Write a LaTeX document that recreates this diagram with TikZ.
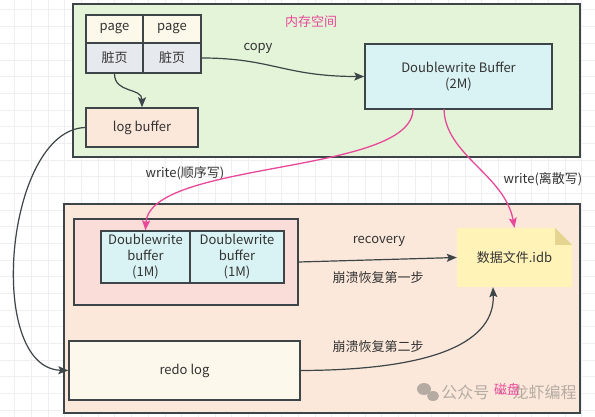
\documentclass[tikz,border=0pt]{standalone}
\usepackage{fontspec}
\setmainfont{Noto Sans CJK SC}
\usetikzlibrary{arrows.meta}
\definecolor{bdr}{HTML}{3D4548}
\definecolor{txt}{HTML}{333333}
\definecolor{gridc}{HTML}{EFEFEF}
\definecolor{memg}{HTML}{E3F4D8}
\definecolor{pagec}{HTML}{FDF9EA}
\definecolor{dirtyc}{HTML}{E6EAEE}
\definecolor{logc}{HTML}{FCE8DA}
\definecolor{dwbc}{HTML}{D9F3F4}
\definecolor{diskc}{HTML}{FBE8DA}
\definecolor{pinkbox}{HTML}{FADCD9}
\definecolor{notec}{HTML}{FFF3B8}
\definecolor{foldc}{HTML}{E5D48F}
\definecolor{redoc}{HTML}{FCF8EB}
\definecolor{pinkc}{HTML}{E8489A}
\definecolor{wmc}{HTML}{B5ABA3}
\tikzset{
  box/.style={draw=bdr, line width=1.4pt, inner sep=0pt, text=txt, align=center,
    font=\fontsize{13}{16}\selectfont},
  outerbox/.style={draw=bdr, line width=2pt, inner sep=0pt},
  lbl/.style={text=txt, inner sep=1pt, font=\fontsize{13}{16}\selectfont},
  arr/.style={draw=bdr, line width=1.2pt, -{Stealth[length=10pt,width=8pt,inset=2pt]}},
  parr/.style={draw=pinkc, line width=1.3pt, -{Stealth[length=10pt,width=8pt,inset=2pt]}},
}
\begin{document}
\begin{tikzpicture}[x=1pt,y=-1pt]
\useasboundingbox (0,0) rectangle (595,417);
\fill[white] (0,0) rectangle (595,417);
% grid
\foreach \i in {0,...,36} \draw[gridc, line width=1pt] ({-1.7+16.67*\i},0) -- ++(0,417);
\foreach \i in {0,...,26} \draw[gridc, line width=1pt] (0,{-6.67+16.67*\i}) -- ++(595,0);

% memory area
\node[outerbox, fill=memg, minimum width=507, minimum height=153] (mem) at (326.5,80.5) {};
\node[text=pinkc, inner sep=0, font=\fontsize{13}{16}\selectfont] (memlbl) at (311,22) {内存空间};
\node[box, fill=pagec, minimum width=57, minimum height=28] (p1) at (114.5,29) {page};
\node[box, fill=pagec, minimum width=58, minimum height=28] (p2) at (172,29) {page};
\node[box, fill=dirtyc, minimum width=57, minimum height=30] (d1) at (114.5,58) {脏页};
\node[box, fill=dirtyc, minimum width=58, minimum height=30] (d2) at (172,58) {脏页};
\node[box, fill=logc, minimum width=112, minimum height=39] (logbuf) at (142,127.5) {log buffer};
\node[box, fill=dwbc, minimum width=187, minimum height=65] (dwb) at (458.5,76.5) {Doublewrite Buffer\\(2M)};
\node[lbl] (copylbl) at (258,48) {copy};

% disk area
\node[outerbox, fill=diskc, minimum width=516, minimum height=209] (disk) at (322,308.5) {};
\node[box, fill=pinkbox, minimum width=224, minimum height=86] (pb) at (186,262) {};
\node[box, fill=dwbc, minimum width=89, minimum height=52] (c1) at (145.5,257) {Doublewrite\\buffer\\(1M)};
\node[box, fill=dwbc, minimum width=94, minimum height=52] (c2) at (237,257) {Doublewrite\\buffer\\(1M)};
\node[box, fill=redoc, minimum width=231, minimum height=59] (redo) at (184.5,370.5) {redo log};

% data file note
\fill[notec] (457,228) -- (555,228) -- (572,245) -- (572,287) -- (457,287) -- cycle;
\fill[foldc] (555,228) -- (572,245) -- (555,245) -- cycle;
\node[text=txt, inner sep=0, minimum width=115, minimum height=59,
  font=\fontsize{13}{16}\selectfont] (file) at (514.5,257.5) {数据文件.idb};

% labels
\node[lbl] (wseq) at (185,173) {write(顺序写)};
\node[lbl] (wrand) at (543,179) {write(离散写)};
\node[lbl] (reclbl) at (379,241) {recovery};
\node[lbl] (step1) at (378,278) {崩溃恢复第一步};
\node[lbl] (step2) at (378,347) {崩溃恢复第二步};

% watermark
\fill[wmc] (424,389) ellipse [x radius=7, y radius=6];
\fill[wmc] (433,396) ellipse [x radius=6, y radius=5];
\node[text=wmc, inner sep=0, font=\fontsize{16}{18}\selectfont] (wm) at (509,392) {公众号 · 龙虾编程};
\node[text=pinkc, inner sep=0, font=\fontsize{13}{16}\selectfont] (disklbl) at (507,389) {磁盘};

% connectors
\draw[arr] (d1.south) .. controls +(0,20) and +(0,-20) .. (logbuf.north);
\draw[arr] (d2.east) .. controls +(70,0) and +(-80,0) .. (dwb.west);
\draw[arr] (logbuf.west) .. controls (5,130) and (-15,368) .. (redo.west);
\draw[arr] (pb.east) -- (file.west);
\draw[arr] (redo.east) .. controls (440,370) and (495,340) .. ([xshift=-21.5pt]file.south);
\draw[parr] (413,109) .. controls (413,175) and (150,160) .. (c1.north);
\draw[parr] (444,109) .. controls (445,155) and (505,175) .. (file.north);
\end{tikzpicture}
\end{document}
